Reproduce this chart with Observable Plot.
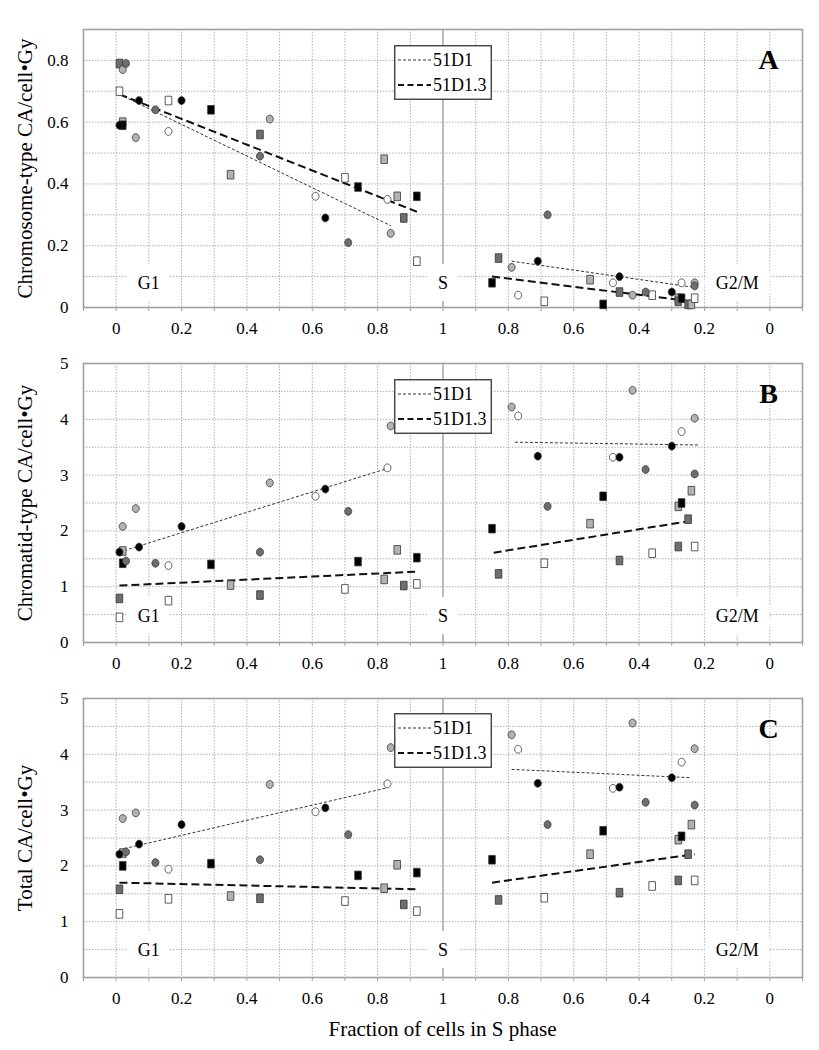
<!DOCTYPE html>
<html>
<head>
<meta charset="utf-8">
<script src="https://cdn.jsdelivr.net/npm/d3@7"></script>
<script src="https://cdn.jsdelivr.net/npm/@observablehq/plot@0.6"></script>
<style>
  html, body { margin: 0; padding: 0; background: #fff; overflow: hidden; }
  #chart { position: relative; width: 819px; height: 1050px; font-family: "Liberation Serif", "Times New Roman", serif; }
  .panel { position: absolute; left: 0; }
  .panel svg { display: block; }
  #xtitle { position: absolute; left: 83px; width: 719px; top: 1017px; text-align: center; font-size: 21px; line-height: 24px; }
</style>
</head>
<body>
<div id="chart"></div>
<script>
// ---------------- DATA ----------------
// x axis: G1 side (0 -> 1) then G2/M side (1 -> 0, mirrored)
const xTickPositions = [0, 0.2, 0.4, 0.6, 0.8, 1, 1.2, 1.4, 1.6, 1.8, 2];
const xTickLabels = ["0", "0.2", "0.4", "0.6", "0.8", "1", "0.8", "0.6", "0.4", "0.2", "0"];
const phaseLabels = ["G1", "S", "G2/M"];
const phaseLabelPos = [0.1, 1, 1.9];
const legendLabels = ["51D1", "51D1.3"];
const panelLetters = ["A", "B", "C"];
const yLabels = ["Chromosome-type CA/cell\u2022Gy", "Chromatid-type CA/cell\u2022Gy", "Total CA/cell\u2022Gy"];
const xTitle = "Fraction of cells in S phase";

// G1 circles (51D1)
const g1CircShade = ["black","light","dark","light","black","dark","white","black","dark","light","white","black","dark","white","light"];
const g1CircF     = [0.01, 0.02, 0.03, 0.06, 0.07, 0.12, 0.16, 0.20, 0.44, 0.47, 0.61, 0.64, 0.71, 0.83, 0.84];
const A_g1CircY   = [0.59, 0.77, 0.79, 0.55, 0.67, 0.64, 0.57, 0.67, 0.49, 0.61, 0.36, 0.29, 0.21, 0.35, 0.24];
const B_g1CircY   = [1.62, 2.08, 1.46, 2.40, 1.71, 1.42, 1.38, 2.08, 1.62, 2.86, 2.62, 2.75, 2.35, 3.13, 3.88];
const C_g1CircY   = [2.21, 2.85, 2.25, 2.95, 2.39, 2.06, 1.94, 2.74, 2.11, 3.46, 2.97, 3.04, 2.56, 3.47, 4.12];

// G1 squares (51D1.3)
const g1SqShade = ["dark","white","light","black","white","black","light","dark","white","black","light","light","dark","black","white"];
const g1SqF     = [0.01, 0.01, 0.02, 0.02, 0.16, 0.29, 0.35, 0.44, 0.70, 0.74, 0.82, 0.86, 0.88, 0.92, 0.92];
const A_g1SqY   = [0.79, 0.70, 0.60, 0.59, 0.67, 0.64, 0.43, 0.56, 0.42, 0.39, 0.48, 0.36, 0.29, 0.36, 0.15];
const B_g1SqY   = [0.79, 0.45, 1.64, 1.42, 0.75, 1.40, 1.03, 0.85, 0.96, 1.45, 1.13, 1.66, 1.02, 1.52, 1.05];
const C_g1SqY   = [1.58, 1.14, 2.23, 2.00, 1.41, 2.04, 1.46, 1.42, 1.37, 1.83, 1.60, 2.02, 1.31, 1.88, 1.19];

// G2/M circles (51D1)
const g2CircShade = ["light","white","black","dark","white","black","light","dark","black","white","light","dark"];
const g2CircF     = [0.79, 0.77, 0.71, 0.68, 0.48, 0.46, 0.42, 0.38, 0.30, 0.27, 0.23, 0.23];
const A_g2CircY   = [0.13, 0.04, 0.15, 0.30, 0.08, 0.10, 0.04, 0.05, 0.05, 0.08, 0.08, 0.07];
const B_g2CircY   = [4.22, 4.06, 3.34, 2.44, 3.32, 3.32, 4.52, 3.10, 3.52, 3.78, 4.02, 3.02];
const C_g2CircY   = [4.35, 4.09, 3.48, 2.74, 3.39, 3.41, 4.56, 3.14, 3.58, 3.86, 4.10, 3.09];

// G2/M squares (51D1.3)
const g2SqShade = ["black","dark","white","light","black","dark","white","light","dark","black","dark","light","white"];
const g2SqF     = [0.85, 0.83, 0.69, 0.55, 0.51, 0.46, 0.36, 0.28, 0.28, 0.27, 0.25, 0.24, 0.23];
const A_g2SqY   = [0.08, 0.16, 0.02, 0.09, 0.01, 0.05, 0.04, 0.03, 0.02, 0.03, 0.01, 0.01, 0.03];
const B_g2SqY   = [2.04, 1.23, 1.42, 2.13, 2.62, 1.47, 1.60, 2.44, 1.72, 2.50, 2.21, 2.72, 1.72];
const C_g2SqY   = [2.11, 1.39, 1.43, 2.21, 2.63, 1.52, 1.64, 2.47, 1.74, 2.53, 2.21, 2.74, 1.74];

// Fit lines: order [G1 51D1, G1 51D1.3, G2/M 51D1, G2/M 51D1.3]
const fitPhase = ["G1", "G1", "G2M", "G2M"];
const fitLine  = ["51D1", "51D1.3", "51D1", "51D1.3"];
const A_fitF0 = [0.01, 0.01, 0.79, 0.85], A_fitY0 = [0.69, 0.69, 0.15, 0.10];
const A_fitF1 = [0.84, 0.92, 0.23, 0.24], A_fitY1 = [0.265, 0.31, 0.065, 0.02];
const B_fitF0 = [0.01, 0.01, 0.78, 0.845], B_fitY0 = [1.62, 1.02, 3.59, 1.61];
const B_fitF1 = [0.83, 0.92, 0.22, 0.23], B_fitY1 = [3.12, 1.27, 3.54, 2.19];
const C_fitF0 = [0.01, 0.01, 0.79, 0.85], C_fitY0 = [2.29, 1.70, 3.73, 1.70];
const C_fitF1 = [0.83, 0.92, 0.24, 0.23], C_fitY1 = [3.40, 1.58, 3.58, 2.21];

// Y axes
const A_yDomain = [0, 0.9], A_yTicks = [0, 0.2, 0.4, 0.6, 0.8], A_yGrid = [0.1, 0.2, 0.3, 0.4, 0.5, 0.6, 0.7, 0.8];
const B_yDomain = [0, 5], B_yTicks = [0, 1, 2, 3, 4, 5], B_yGrid = [0.5, 1, 1.5, 2, 2.5, 3, 3.5, 4, 4.5];
const C_yDomain = [0, 5], C_yTicks = [0, 1, 2, 3, 4, 5], C_yGrid = [0.5, 1, 1.5, 2, 2.5, 3, 3.5, 4, 4.5];
const phaseLabelY = [0.08, 0.47, 0.48];

// ---------------- STYLE ----------------
const shadeColors = { black: "#000000", dark: "#6e6e6e", light: "#b2b2b2", white: "#ffffff" };
const FONT = "'Liberation Serif', 'Times New Roman', serif";
const xGridPos = [0,0.1,0.2,0.3,0.4,0.5,0.6,0.7,0.8,0.9,1.1,1.2,1.3,1.4,1.5,1.6,1.7,1.8,1.9,2.0];
const xMinorTicks = [-0.1,0,0.1,0.2,0.3,0.4,0.5,0.6,0.7,0.8,0.9,1,1.1,1.2,1.3,1.4,1.5,1.6,1.7,1.8,1.9,2.0,2.1];

const ellipseSym = { draw(ctx) {
  const rx = 3.5, ry = 3.9, n = 28;
  for (let k = 0; k < n; k++) {
    const a = 2 * Math.PI * k / n, px = rx * Math.cos(a), py = ry * Math.sin(a);
    if (k === 0) ctx.moveTo(px, py); else ctx.lineTo(px, py);
  }
  ctx.closePath();
}};
const rectSym = { draw(ctx) {
  const w = 3.3, h = 4.3;
  ctx.moveTo(-w, -h); ctx.lineTo(w, -h); ctx.lineTo(w, h); ctx.lineTo(-w, h); ctx.closePath();
}};

const pos = (phase, f) => phase === "G1" ? f : 2 - f;
function rows(shades, fs, ys, phase, shape) {
  return fs.map((f, i) => ({ x: pos(phase, f), y: ys[i], fill: shadeColors[shades[i]], shape }));
}

function panel(cfg) {
  const pts = [
    ...rows(g1SqShade, g1SqF, cfg.g1s, "G1", "s"),
    ...rows(g2SqShade, g2SqF, cfg.g2s, "G2M", "s"),
    ...rows(g1CircShade, g1CircF, cfg.g1c, "G1", "c"),
    ...rows(g2CircShade, g2CircF, cfg.g2c, "G2M", "c")
  ];
  const fits = fitLine.map((ln, i) => ({
    x1: pos(fitPhase[i], cfg.f0[i]), y1: cfg.y0[i],
    x2: pos(fitPhase[i], cfg.f1[i]), y2: cfg.y1[i], ln
  }));
  const labels = phaseLabels.map((t, i) => ({ t, x: phaseLabelPos[i], y: cfg.labelY }));
  return Plot.plot({
    width: 819, height: cfg.height,
    marginLeft: 83, marginRight: 17, marginTop: cfg.marginTop, marginBottom: 33,
    x: { domain: [-0.1, 2.1] },
    y: { domain: cfg.yDomain },
    color: { type: "identity" },
    style: { fontFamily: FONT, fontSize: "17px", background: "transparent", overflow: "visible" },
    marks: [
      Plot.gridX(xGridPos, { stroke: "#b0b0b0", strokeOpacity: 1, strokeDasharray: "1.5,1.5" }),
      Plot.gridY(cfg.yGrid, { stroke: "#b0b0b0", strokeOpacity: 1, strokeDasharray: "1.5,1.5" }),
      Plot.ruleX([1], { stroke: "#a6a6a6", strokeWidth: 1.5 }),
      Plot.frame({ stroke: "#a0a0a0", strokeWidth: 1.6 }),
      Plot.axisX(xMinorTicks, { tickSize: 4, text: null, stroke: "#a0a0a0", label: null }),
      Plot.axisX(xTickPositions, {
        tickSize: 0, tickPadding: 14, label: null, fontSize: 17, fill: "#000",
        tickFormat: d => xTickLabels[xTickPositions.findIndex(v => Math.abs(v - d) < 1e-9)]
      }),
      Plot.axisY(cfg.yTicks, { tickSize: 0, tickPadding: 15, label: null, fontSize: 17, fill: "#000", tickFormat: d => String(d) }),
      Plot.text(labels, { x: "x", y: "y", text: "t", fontSize: 18, fill: "#000", stroke: "white", strokeWidth: 24, strokeLinejoin: "round", paintOrder: "stroke" }),
      Plot.link(fits.filter(d => d.ln === "51D1"), { x1: "x1", y1: "y1", x2: "x2", y2: "y2", stroke: "#333", strokeWidth: 1, strokeDasharray: "3,2" }),
      Plot.link(fits.filter(d => d.ln === "51D1.3"), { x1: "x1", y1: "y1", x2: "x2", y2: "y2", stroke: "#111", strokeWidth: 2, strokeDasharray: "8,4" }),
      Plot.dot(pts.filter(d => d.shape === "s"), { x: "x", y: "y", fill: "fill", symbol: rectSym, stroke: "#333", strokeWidth: 0.8 }),
      Plot.dot(pts.filter(d => d.shape === "c"), { x: "x", y: "y", fill: "fill", symbol: ellipseSym, stroke: "#333", strokeWidth: 0.8 }),
      Plot.text([cfg.letter], { frameAnchor: "top-right", dx: -34, dy: 31, text: d => d, fontSize: 28, fontWeight: "bold", textAnchor: "middle", lineAnchor: "middle", fill: "#000" }),
      Plot.text([cfg.yLabel], { frameAnchor: "left", dx: -58, rotate: -90, text: d => d, fontSize: 21, textAnchor: "middle", lineAnchor: "middle", fill: "#000" })
    ]
  });
}

function legend(top) {
  const ns = "http://www.w3.org/2000/svg";
  const svg = document.createElementNS(ns, "svg");
  svg.setAttribute("width", 98); svg.setAttribute("height", 55);
  svg.style.position = "absolute"; svg.style.left = "394px"; svg.style.top = top + "px";
  svg.style.fontFamily = FONT;
  const rect = document.createElementNS(ns, "rect");
  Object.entries({ x: 0.75, y: 0.75, width: 96.5, height: 53.5, fill: "#fff", stroke: "#333", "stroke-width": 1.3 })
    .forEach(([k, v]) => rect.setAttribute(k, v));
  svg.appendChild(rect);
  const styles = [{ dash: "3,2", w: 1, c: "#333" }, { dash: "6,3.5", w: 2, c: "#111" }];
  legendLabels.forEach((lab, i) => {
    const yy = 15 + i * 25;
    const ln = document.createElementNS(ns, "line");
    Object.entries({ x1: 4, x2: 37, y1: yy, y2: yy, stroke: styles[i].c, "stroke-width": styles[i].w, "stroke-dasharray": styles[i].dash })
      .forEach(([k, v]) => ln.setAttribute(k, v));
    svg.appendChild(ln);
    const tx = document.createElementNS(ns, "text");
    Object.entries({ x: 39, y: yy, "dominant-baseline": "central", "font-size": 18, fill: "#000" })
      .forEach(([k, v]) => tx.setAttribute(k, v));
    tx.textContent = lab;
    svg.appendChild(tx);
  });
  return svg;
}

const chart = document.getElementById("chart");
const panels = [
  { top: 0, height: 340, marginTop: 29, yDomain: A_yDomain, yTicks: A_yTicks, yGrid: A_yGrid,
    g1c: A_g1CircY, g1s: A_g1SqY, g2c: A_g2CircY, g2s: A_g2SqY,
    f0: A_fitF0, y0: A_fitY0, f1: A_fitF1, y1: A_fitY1, labelY: phaseLabelY[0],
    letter: panelLetters[0], yLabel: yLabels[0], legendTop: 45 },
  { top: 340, height: 335, marginTop: 23, yDomain: B_yDomain, yTicks: B_yTicks, yGrid: B_yGrid,
    g1c: B_g1CircY, g1s: B_g1SqY, g2c: B_g2CircY, g2s: B_g2SqY,
    f0: B_fitF0, y0: B_fitY0, f1: B_fitF1, y1: B_fitY1, labelY: phaseLabelY[1],
    letter: panelLetters[1], yLabel: yLabels[1], legendTop: 379 },
  { top: 675, height: 335, marginTop: 23, yDomain: C_yDomain, yTicks: C_yTicks, yGrid: C_yGrid,
    g1c: C_g1CircY, g1s: C_g1SqY, g2c: C_g2CircY, g2s: C_g2SqY,
    f0: C_fitF0, y0: C_fitY0, f1: C_fitF1, y1: C_fitY1, labelY: phaseLabelY[2],
    letter: panelLetters[2], yLabel: yLabels[2], legendTop: 713 }
];
panels.forEach(cfg => {
  const div = document.createElement("div");
  div.className = "panel";
  div.style.top = cfg.top + "px";
  div.appendChild(panel(cfg));
  chart.appendChild(div);
  chart.appendChild(legend(cfg.legendTop));
});
const xt = document.createElement("div");
xt.id = "xtitle";
xt.textContent = xTitle;
chart.appendChild(xt);
</script>
</body>
</html>
